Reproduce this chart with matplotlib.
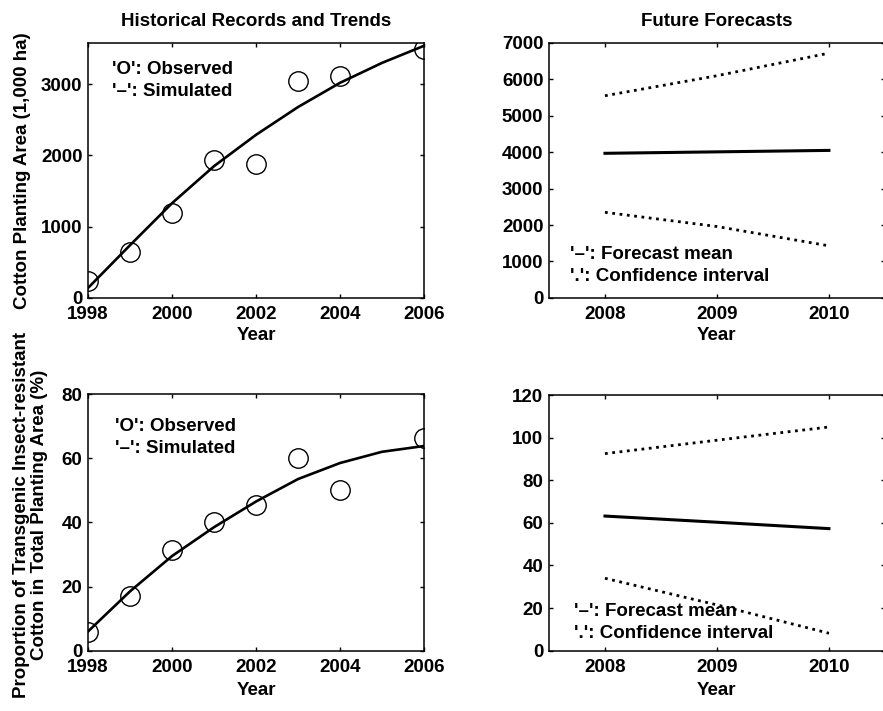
"""Cotton planting area and transgenic share: history fits and forecasts."""

import matplotlib
matplotlib.use("Agg")
import matplotlib.pyplot as plt

plt.rcParams["font.family"] = ["Liberation Sans", "DejaVu Sans"]
plt.rcParams["font.weight"] = "bold"
plt.rcParams["axes.labelweight"] = "bold"
plt.rcParams["axes.titleweight"] = "bold"

FS = 13.5

# --- Historical data ---
obs_years = [1998, 1999, 2000, 2001, 2002, 2003, 2004, 2006]
area_obs = [240, 645, 1195, 1940, 1877, 3050, 3110, 3490]
share_obs = [5.7, 16.9, 31.5, 40.0, 45.5, 60.0, 50.2, 66.3]

sim_years = [1998, 1999, 2000, 2001, 2002, 2003, 2004, 2005, 2006]
area_sim = [140, 740, 1330, 1850, 2290, 2680, 3020, 3300, 3540]
share_sim = [6.0, 18.5, 29.5, 38.5, 46.5, 53.5, 58.5, 62.0, 63.8]

# --- Forecasts ---
fc_years = [2008, 2009, 2010]
area_mean = [3970, 4010, 4050]
area_upper = [5550, 6100, 6720]
area_lower = [2350, 1960, 1430]
share_mean = [63.2, 60.3, 57.3]
share_upper = [92.5, 98.8, 105.0]
share_lower = [34.0, 21.5, 8.2]

fig = plt.figure(figsize=(8.83, 7.11), dpi=100)
ax_tl = fig.add_axes([0.0997, 0.581, 0.3805, 0.3586])
ax_tr = fig.add_axes([0.6217, 0.581, 0.3805, 0.3586])
ax_bl = fig.add_axes([0.0997, 0.0848, 0.3805, 0.3610])
ax_br = fig.add_axes([0.6217, 0.0848, 0.3805, 0.3596])

for ax in (ax_tl, ax_tr, ax_bl, ax_br):
    ax.tick_params(direction="in", length=3, width=1, top=True, right=True,
                   labelsize=FS)
    ax.tick_params(axis="x", pad=6)
    ax.tick_params(axis="y", pad=4)
    for s in ax.spines.values():
        s.set_linewidth(1.1)

# top row "Year" sits tighter under the ticks than the bottom row
for ax in (ax_tl, ax_tr):
    ax.set_xlabel("Year", fontsize=FS, labelpad=3)
for ax in (ax_bl, ax_br):
    ax.set_xlabel("Year", fontsize=FS, labelpad=4.5)

# Top-left: planting area history
ax_tl.plot(sim_years, area_sim, color="black", lw=1.9)
ax_tl.plot(obs_years, area_obs, "o", mfc="none", mec="black", ms=14, mew=1.0)
ax_tl.set_xlim(1998, 2006)
ax_tl.set_ylim(0, 3580)
ax_tl.set_xticks([1998, 2000, 2002, 2004, 2006])
ax_tl.set_yticks([0, 1000, 2000, 3000])
ax_tl.set_ylabel("Cotton Planting Area (1,000 ha)", fontsize=FS, labelpad=7)
ax_tl.set_title("Historical Records and Trends", fontsize=FS, pad=12)
ax_tl.text(0.071, 0.894, "'O': Observed", transform=ax_tl.transAxes,
           fontsize=FS, va="center")
ax_tl.text(0.071, 0.808, "'–': Simulated", transform=ax_tl.transAxes,
           fontsize=FS, va="center")

# Top-right: planting area forecast
ax_tr.plot(fc_years, area_mean, color="black", lw=2.2)
ax_tr.plot(fc_years, area_upper, color="black", lw=2.0, ls=":")
ax_tr.plot(fc_years, area_lower, color="black", lw=2.0, ls=":")
ax_tr.set_xlim(2007.5, 2010.5)
ax_tr.set_ylim(0, 7000)
ax_tr.set_xticks(fc_years)
ax_tr.set_yticks(range(0, 7001, 1000))
ax_tr.set_title("Future Forecasts", fontsize=FS, pad=12)
ax_tr.text(0.063, 0.169, "'–': Forecast mean", transform=ax_tr.transAxes,
           fontsize=FS, va="center")
ax_tr.text(0.063, 0.084, "'.': Confidence interval", transform=ax_tr.transAxes,
           fontsize=FS, va="center")

# Bottom-left: transgenic share history
ax_bl.plot(sim_years, share_sim, color="black", lw=1.9)
ax_bl.plot(obs_years, share_obs, "o", mfc="none", mec="black", ms=14, mew=1.0)
ax_bl.set_xlim(1998, 2006)
ax_bl.set_ylim(0, 80)
ax_bl.set_xticks([1998, 2000, 2002, 2004, 2006])
ax_bl.set_yticks(range(0, 81, 20))
ax_bl.set_ylabel("Proportion of Transgenic Insect-resistant\n"
                 "Cotton in Total Planting Area (%)", fontsize=FS,
                 linespacing=1.02)
ax_bl.yaxis.set_label_coords(-0.12, 0.53)
ax_bl.text(0.08, 0.873, "'O': Observed", transform=ax_bl.transAxes,
           fontsize=FS, va="center")
ax_bl.text(0.08, 0.788, "'–': Simulated", transform=ax_bl.transAxes,
           fontsize=FS, va="center")

# Bottom-right: transgenic share forecast
ax_br.plot(fc_years, share_mean, color="black", lw=2.2)
ax_br.plot(fc_years, share_upper, color="black", lw=2.0, ls=":")
ax_br.plot(fc_years, share_lower, color="black", lw=2.0, ls=":")
ax_br.set_xlim(2007.5, 2010.5)
ax_br.set_ylim(0, 120)
ax_br.set_xticks(fc_years)
ax_br.set_yticks(range(0, 121, 20))
ax_br.text(0.075, 0.153, "'–': Forecast mean", transform=ax_br.transAxes,
           fontsize=FS, va="center")
ax_br.text(0.075, 0.068, "'.': Confidence interval", transform=ax_br.transAxes,
           fontsize=FS, va="center")

fig.savefig("out.png", dpi=100)
plt.close(fig)
